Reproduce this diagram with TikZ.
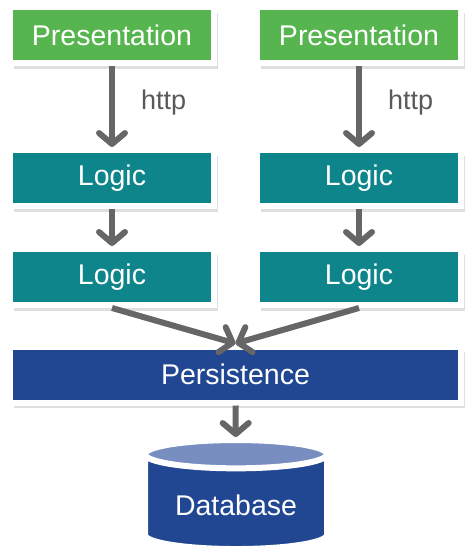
\documentclass[tikz,border=0pt]{standalone}
\usepackage{fontspec}
\setmainfont{Liberation Sans}
\usetikzlibrary{arrows.meta,shapes.geometric,shadows}
\definecolor{presgreen}{RGB}{87,181,80}
\definecolor{logicteal}{RGB}{14,133,138}
\definecolor{persblue}{RGB}{33,71,147}
\definecolor{dbtop}{RGB}{120,142,192}
\definecolor{arrowgray}{RGB}{102,102,102}
\definecolor{protogray}{RGB}{89,89,89}
\begin{document}
\begin{tikzpicture}[x=1pt,y=-1pt,
  plain/.style={draw=white,line width=6pt,text=white,font=\fontsize{28.5}{30}\selectfont},
  box/.style={plain,minimum height=56pt,
    drop shadow={opacity=0.25,shadow xshift=4pt,shadow yshift=-5.5pt}},
  tierbox/.style={box,minimum width=204pt},
  link/.style={draw=arrowgray,line width=6pt,
    -{Straight Barb[length=11pt,width=26pt,line cap=round,line join=round]}},
  proto/.style={text=protogray,font=\fontsize{27}{29}\selectfont,inner sep=0pt}]
\useasboundingbox (0,0) rectangle (471,558);
\node[tierbox,fill=presgreen] (presL) at (112,35) {Presentation};
\node[tierbox,fill=presgreen] (presR) at (359,35) {Presentation};
\node[tierbox,fill=logicteal] (logicL1) at (112,178) {Logic};
\node[tierbox,fill=logicteal] (logicR1) at (359,178) {Logic};
\node[tierbox,fill=logicteal] (logicL2) at (112,277) {Logic};
\node[tierbox,fill=logicteal] (logicR2) at (359,277) {Logic};
\node[box,fill=persblue,minimum width=451pt] (pers) at (235.5,374.5) {Persistence};
\node[plain,cylinder,shape border rotate=90,aspect=0.22,minimum width=182pt,minimum height=109pt,
  cylinder uses custom fill,cylinder body fill=persblue,cylinder end fill=dbtop] (db) at (236,505) {Database};
\draw[link] (presL) -- node[proto,pos=0.45,right=26pt] {http} (logicL1);
\draw[link] (presR) -- node[proto,pos=0.45,right=26pt] {http} (logicR1);
\draw[link] (logicL1) -- (logicL2);
\draw[link] (logicR1) -- (logicR2);
\draw[link] (logicL2.south) -- (pers.north);
\draw[link] (logicR2.south) -- (pers.north);
\draw[link] (pers) -- (db);
\end{tikzpicture}
\end{document}
